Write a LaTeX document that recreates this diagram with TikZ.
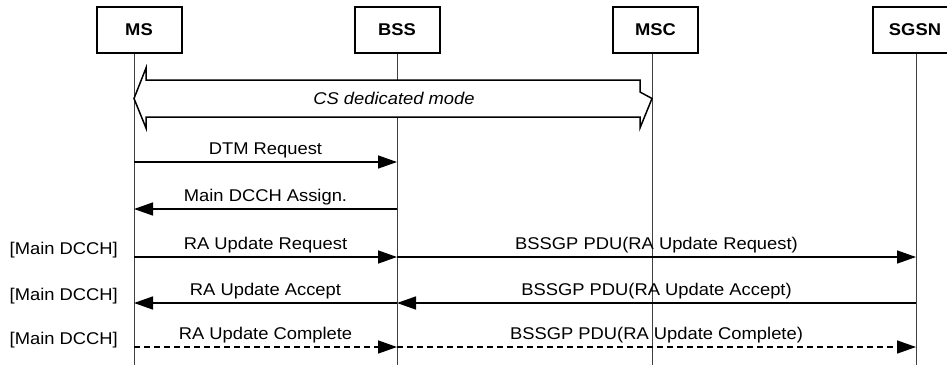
\documentclass[tikz,border=0pt]{standalone}
\usepackage{fontspec}
\setmainfont[FakeStretch=1.08]{Liberation Sans}
\usepackage{tikz}
\usetikzlibrary{arrows.meta}
\tikzset{entity/.style={draw=black, line width=2pt, fill=white, minimum width=85pt, minimum height=46pt, inner sep=0pt, font=\fontsize{17}{20}\selectfont\bfseries},
life/.style={draw=black!75, line width=1pt},
msg/.style={line width=1.5pt, -{Triangle[length=19pt,width=13pt]}},
%label above a message, baseline 8pt over the line
lbl/.style={anchor=base, yshift=8pt, inner sep=0pt}}

\begin{document}
\begin{tikzpicture}[x=1pt, y=-1pt, font=\fontsize{17}{20}\selectfont]
\useasboundingbox (0,0) rectangle (947,365);

% lifelines
\foreach \n/\x in {ms/134,bss/397,msc/652,sgsn/916}
     \draw[life] (\x,53) coordinate (\n) -- (\x,365);

% CS dedicated mode
\coordinate (csl) at (ms |- 0,98.5);
\coordinate (csr) at (msc |- 0,98.5);
\draw[line width=1.5pt, fill=white, line join=miter]
     (csl) -- ++(12,-30.5) -- ++(0,12) -- ([xshift=-12pt,yshift=18.5pt]csr) -- ++(0,12)
     -- (csr) -- ++(-12,29.5) -- ++(0,-11) -- ([xshift=12pt,yshift=-18.5pt]csl) -- ++(0,11) -- cycle;
\node[font=\fontsize{17}{20}\selectfont\itshape] (cs) at (394,98) {CS dedicated mode};

% entities
\node[entity] (msbox) at (139,30) {MS};
\node[entity] (bssbox) at (397,30) {BSS};
\node[entity] (mscbox) at (655.5,30) {MSC};
\node[entity] (sgsnbox) at (915,30) {SGSN};

% messages
\draw[msg] (ms |- 0,162) -- (bss |- 0,162) node[lbl, midway]{DTM Request};
\draw[msg] (bss |- 0,209) -- (ms |- 0,209) node[lbl, midway]{Main DCCH Assign.};

\draw[msg] (ms |- 0,257) -- (bss |- 0,257) node[lbl, midway]{RA Update Request};
\draw[msg] (bss |- 0,257) -- (sgsn |- 0,257) node[lbl, midway]{BSSGP PDU(RA Update Request)};

\draw[msg] (bss |- 0,303) -- (ms |- 0,303) node[lbl, midway]{RA Update Accept};
\draw[msg] (sgsn |- 0,303) -- (bss |- 0,303) node[lbl, midway]{BSSGP PDU(RA Update Accept)};

\draw[msg, dash pattern=on 6pt off 4pt] (ms |- 0,347) -- (bss |- 0,347) node[lbl, midway]{RA Update Complete};
\draw[msg, dash pattern=on 6pt off 4pt] (bss |- 0,347) -- (sgsn |- 0,347) node[lbl, midway]{BSSGP PDU(RA Update Complete)};

%channel labels
\foreach \y/\n in {257/a,303/b,347/c}
     \node[anchor=base east, inner sep=0pt] (ch\n) at (118,\y-3) {[Main DCCH]};

\end{tikzpicture}
\end{document}
